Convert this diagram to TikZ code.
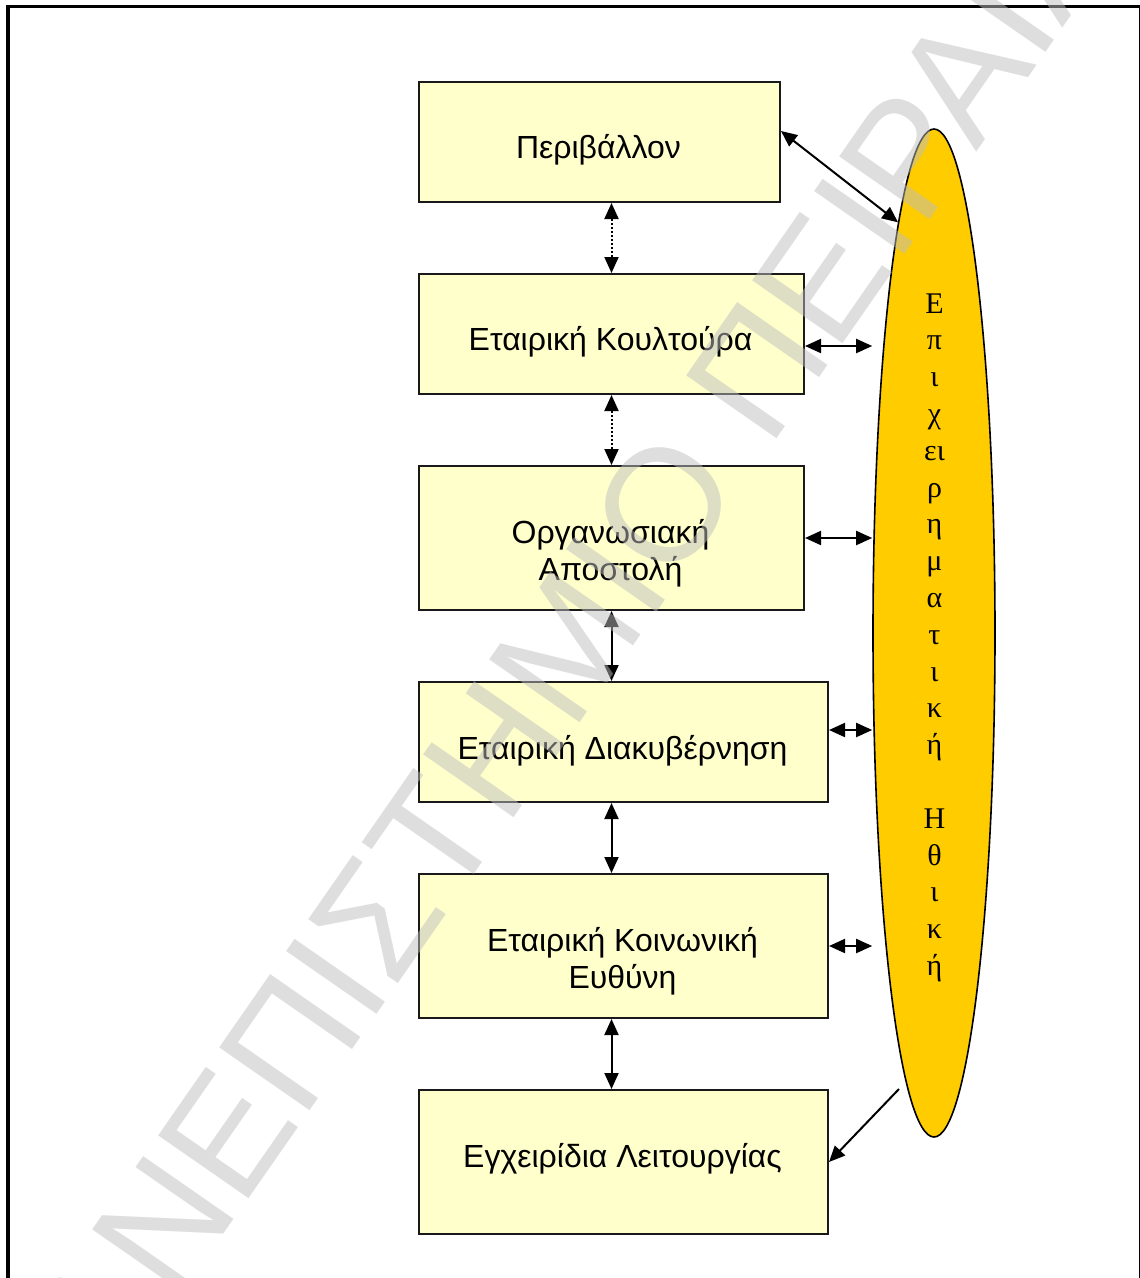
\documentclass[tikz,border=0pt]{standalone}
\usepackage{fontspec}
\setmainfont{Liberation Sans}
\newfontfamily\grsans{Liberation Sans}
\newfontfamily\grserif{Liberation Serif}
\usetikzlibrary{arrows.meta,shapes.geometric}
\definecolor{boxfill}{HTML}{FFFFCC}
\definecolor{ethfill}{HTML}{FFCC00}
\definecolor{wmgray}{RGB}{190,190,190}
\tikzset{
  box/.style={draw=black!90, line width=2pt, fill=boxfill, rectangle, inner sep=0pt, anchor=north west},
  boxtext/.style={font=\grsans\fontsize{32}{37}\selectfont, anchor=base, inner sep=0pt},
  conn/.style={line width=2pt, {Triangle[length=16pt,width=14pt]}-{Triangle[length=16pt,width=14pt]}},
  dotconn/.style={conn, dash pattern=on 2pt off 2pt},
  oneway/.style={line width=2pt, -{Triangle[length=16pt,width=14pt]}},
  ethic/.style={ellipse, draw=black, line width=1.6pt, fill=ethfill, inner sep=0pt, minimum width=122pt, minimum height=1008pt},
  ethtxt/.style={font=\grserif\fontsize{30}{36.8}\selectfont, anchor=base, inner sep=0pt},
  watermark/.style={font=\grsans\fontsize{160}{160}\selectfont, text=wmgray, text opacity=0.5, inner sep=0pt}
}
\begin{document}
\begin{tikzpicture}[x=1pt,y=-1pt]
\useasboundingbox (0,0) rectangle (1140,1278);
\clip (0,0) rectangle (1140,1278);
\draw[line width=3.5pt] (8,6.5) rectangle (1140.5,1300);

% boxes
\node[box, minimum width=361pt, minimum height=120pt] (b1) at (418,81) {};
\node[box, minimum width=385pt, minimum height=120pt] (b2) at (418,273) {};
\node[box, minimum width=385pt, minimum height=144pt] (b3) at (418,465) {};
\node[box, minimum width=409pt, minimum height=120pt] (b4) at (418,681) {};
\node[box, minimum width=409pt, minimum height=144pt] (b5) at (418,873) {};
\node[box, minimum width=409pt, minimum height=144pt] (b6) at (418,1089) {};

% box texts
\node[boxtext] (t1) at (598.5,158.5) {Περιβάλλον};
\node[boxtext] (t2) at (610.5,350) {Εταιρική Κουλτούρα};
\node[boxtext] (t3) at (610.5,543) {\parbox[t]{400pt}{\fontsize{32}{37}\selectfont\centering Οργανωσιακή\\Αποστολή}};
\node[boxtext] (t4) at (622.5,759) {Εταιρική Διακυβέρνηση};
\node[boxtext] (t5) at (622.5,951) {\parbox[t]{400pt}{\fontsize{32}{37}\selectfont\centering Εταιρική Κοινωνική\\Ευθύνη}};
\node[boxtext] (t6) at (622.5,1167) {Εγχειρίδια Λειτουργίας};

% ellipse
\node[ethic] (eth) at (934,633) {};
\node[ethtxt] (etht) at (934.5,313) {\parbox[t]{60pt}{\fontsize{30}{36.8}\selectfont\centering Ε\\π\\ι\\χ\\ει\\ρ\\η\\μ\\α\\τ\\ι\\κ\\ή\\[36.8pt]Η\\θ\\ι\\κ\\ή}};

% vertical connectors
\draw[dotconn] (b2.north |- b1.south) -- (b2.north);
\draw[dotconn] (b2.south) -- (b3.north);
\draw[conn] (b3.south) -- (b3.south |- b4.north);
\draw[conn] (b3.south |- b4.south) -- (b3.south |- b5.north);
\draw[conn] (b3.south |- b5.south) -- (b3.south |- b6.north);

% horizontal connectors
\coordinate (h2) at ([yshift=-12pt]b2.east);
\coordinate (h4) at ([yshift=12pt]b4.east);
\draw[conn] (h2) -- (eth.west |- h2);
\draw[conn] (b3.east) -- (eth.west |- b3.east);
\draw[conn] (h4) -- (eth.west |- h4);
\draw[conn] (b5.east) -- (eth.west |- b5.east);

% diagonal connectors
\coordinate (d1) at ([yshift=11pt]b1.east);
\draw[conn] (d1) -- (eth.95);
\coordinate (e6) at (899,1089);
\draw[oneway] (e6) -- (b6.east);

% watermark
\node[watermark, rotate=55.2] (wm) at (541,682) {ΠΑΝΕΠΙΣΤΗΜΙΟ ΠΕΙΡΑΙΑ};
\end{tikzpicture}
\end{document}
